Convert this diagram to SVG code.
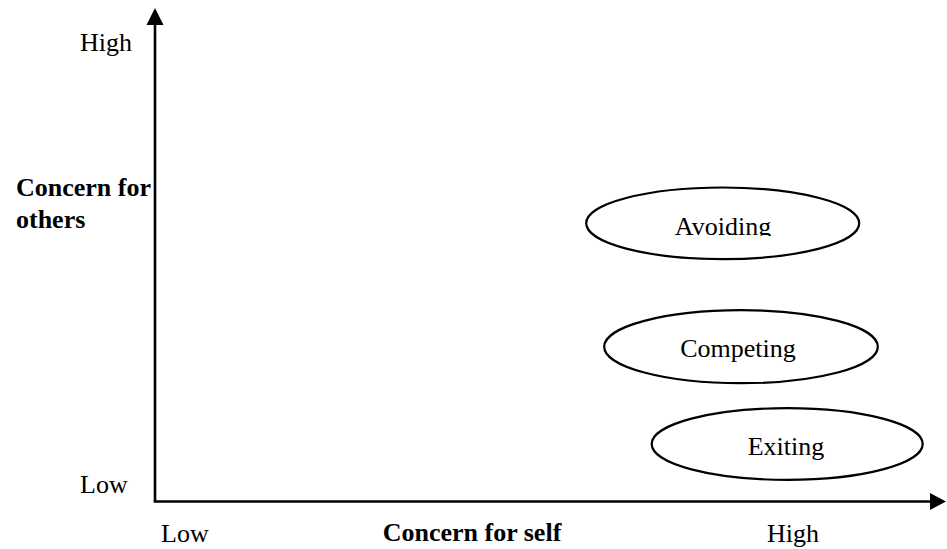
<svg xmlns="http://www.w3.org/2000/svg" width="947" height="549" viewBox="0 0 947 549">
<style>
.t{font-family:"Liberation Serif","Times New Roman",serif;font-size:26px;fill:#000}
.b{font-weight:bold}
.ax{stroke:#000;stroke-width:2.6;fill:none}
.el{stroke:#000;stroke-width:2.2;fill:#fff}
</style>
<defs>
<clipPath id="clipAvoid"><rect x="580" y="180" width="300" height="56"/></clipPath>
</defs>
<rect width="947" height="549" fill="#fff"/>
<g id="connectors">
<line class="ax" x1="155" y1="501.5" x2="155" y2="24"/>
<polygon points="155,8 146.5,25 163.5,25" fill="#000"/>
<line class="ax" x1="153.7" y1="501.5" x2="931" y2="501.5"/>
<polygon points="946,501.5 930,493 930,510" fill="#000"/>
</g>
<g id="labels">
<text class="t" x="80" y="51">High</text>
<text class="t" x="80" y="493">Low</text>
<text class="t b" x="16" y="196">Concern for</text>
<text class="t b" x="16" y="228">others</text>
<text class="t" x="161" y="542">Low</text>
<text class="t b" x="472" y="541" text-anchor="middle">Concern for self</text>
<text class="t" x="767" y="542">High</text>
</g>
<g id="avoiding">
<ellipse class="el" cx="722.7" cy="223.3" rx="136.5" ry="35.8"/>
<text class="t" x="723" y="235" text-anchor="middle" clip-path="url(#clipAvoid)">Avoiding</text>
</g>
<g id="competing">
<ellipse class="el" cx="741" cy="346.7" rx="136.8" ry="36.5"/>
<text class="t" x="738" y="356.5" text-anchor="middle">Competing</text>
</g>
<g id="exiting">
<ellipse class="el" cx="787.2" cy="444" rx="135.5" ry="35.8"/>
<text class="t" x="786" y="455" text-anchor="middle">Exiting</text>
</g>
</svg>
